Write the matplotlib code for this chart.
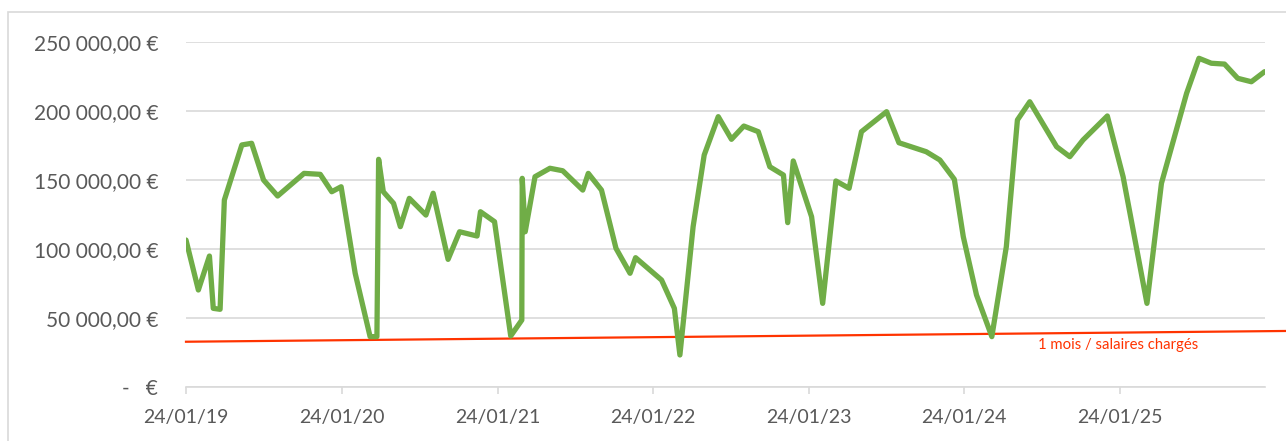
import matplotlib
matplotlib.use("Agg")
import matplotlib.pyplot as plt
import matplotlib.dates as mdates
from matplotlib.patches import Rectangle
from matplotlib.ticker import FuncFormatter
import pandas as pd

# ---- data ----
dates = ['2019-01-24', '2019-02-22', '2019-03-20', '2019-03-29', '2019-04-14', '2019-04-24',
         '2019-06-04', '2019-06-27', '2019-07-25', '2019-08-27', '2019-10-28', '2019-12-05',
         '2020-01-01', '2020-01-23', '2020-02-25', '2020-03-31', '2020-04-16', '2020-04-20',
         '2020-05-01', '2020-05-25', '2020-06-10', '2020-07-01', '2020-08-09', '2020-08-26',
         '2020-09-30', '2020-10-27', '2020-12-07', '2020-12-15', '2021-01-17', '2021-02-24',
         '2021-03-22', '2021-03-23', '2021-03-30', '2021-04-22', '2021-05-27', '2021-06-26',
         '2021-08-12', '2021-08-25', '2021-09-25', '2021-10-29', '2021-12-01', '2021-12-14',
         '2022-02-13', '2022-03-15', '2022-03-28', '2022-04-28', '2022-05-24', '2022-06-26',
         '2022-07-27', '2022-08-25', '2022-09-28', '2022-10-25', '2022-11-26', '2022-12-06',
         '2022-12-19', '2023-01-31', '2023-02-26', '2023-03-29', '2023-04-29', '2023-05-28',
         '2023-07-26', '2023-08-24', '2023-10-27', '2023-11-28', '2024-01-01', '2024-01-22',
         '2024-02-22', '2024-03-29', '2024-05-02', '2024-05-28', '2024-06-26', '2024-08-28',
         '2024-09-28', '2024-10-29', '2024-12-25', '2025-01-31', '2025-03-28', '2025-05-01',
         '2025-06-29', '2025-07-28', '2025-08-26', '2025-09-26', '2025-10-27', '2025-11-28',
         '2025-12-29']
tresorerie = [106500, 70300, 94900, 57000, 56300, 135500,
              175400, 176600, 150000, 138400, 154800, 154100,
              141500, 145100, 82400, 36500, 36500, 165000,
              141500, 133100, 116200, 136700, 124600, 140400,
              92500, 112500, 109400, 127000, 119800, 37000,
              48500, 151200, 112500, 152400, 158500, 156700,
              142700, 154800, 142700, 100500, 82400, 93700,
              77500, 57000, 23200, 116200, 168100, 195900,
              179500, 189100, 185000, 159600, 153600, 119100,
              163800, 123400, 60600, 149300, 144000, 185000,
              199500, 177000, 170500, 164500, 150500, 108900,
              66700, 36500, 101700, 193500, 206700, 174100,
              166900, 179000, 196400, 152400, 60600, 147600,
              212800, 238200, 234600, 234000, 223700, 221200,
              228500]

seuil_dates = ['2019-01-24', '2026-02-17']
seuil_values = [32800, 40600]
seuil_label = "1 mois / salaires chargés"

tick_dates = ['2019-01-24', '2020-01-24', '2021-01-24', '2022-01-24',
              '2023-01-24', '2024-01-24', '2025-01-24']
y_ticks = [0, 50000, 100000, 150000, 200000, 250000]

# ---- figure ----
W, H = 1286, 441
fig = plt.figure(figsize=(W / 100, H / 100), dpi=100)
plt.rcParams['font.family'] = ['Lato', 'DejaVu Sans']

# chart frame (cropped at right/bottom)
fig.patches.append(Rectangle((8 / W, -0.1), 1.2, (H - 12) / H + 0.1,
                             transform=fig.transFigure, fill=False,
                             edgecolor='#d9d9d9', linewidth=1.2))

ax = fig.add_axes([186 / W, 54 / H, (1265 - 186) / W, 345 / H])

x = pd.to_datetime(dates)
ax.plot(x, tresorerie, color='#70AD47', linewidth=3.8, solid_joinstyle='round',
        solid_capstyle='round', zorder=3)

ax.plot(pd.to_datetime(seuil_dates), seuil_values, color='#FF3300', linewidth=1.6,
        clip_on=False, zorder=2)

ax.set_xlim(pd.Timestamp('2019-01-24'), pd.Timestamp('2025-12-30'))
ax.set_ylim(0, 250000)

ax.set_xticks(pd.to_datetime(tick_dates))
ax.xaxis.set_major_formatter(mdates.DateFormatter('%d/%m/%y'))
ax.set_yticks(y_ticks)


def fmt(v, pos):
    if v == 0:
        return '-   €'
    s = f"{v:,.2f}".replace(',', ' ').replace('.', ',')
    return s + ' €'


ax.yaxis.set_major_formatter(FuncFormatter(fmt))

ax.grid(axis='y', color='#d9d9d9', linewidth=1.2)
ax.set_axisbelow(True)
for s in ['top', 'right', 'left']:
    ax.spines[s].set_visible(False)
ax.spines['bottom'].set_color('#d9d9d9')
ax.spines['bottom'].set_linewidth(1.2)
ax.tick_params(axis='x', colors='#d9d9d9', length=5, width=1.2, pad=11,
               labelcolor='#595959', labelsize=14)
ax.tick_params(axis='y', length=0, pad=20, labelcolor='#595959', labelsize=15)

ax.text(1118, H - 345, seuil_label, transform=None, color='#FF3300', fontsize=10.7,
        ha='center', va='center')

fig.savefig('out.png', dpi=100, facecolor='white')
